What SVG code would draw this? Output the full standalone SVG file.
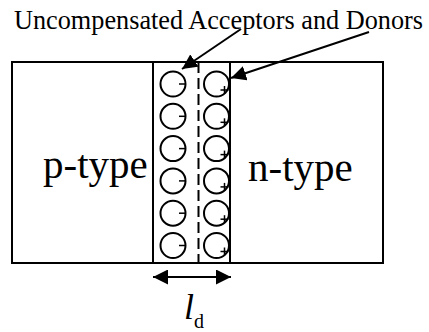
<svg xmlns="http://www.w3.org/2000/svg" width="429" height="332" viewBox="0 0 429 332">
<defs>
<style>
.box{fill:none;stroke:#000;stroke-width:2}
.c{fill:none;stroke:#000;stroke-width:2}
.s{stroke:#000;stroke-width:1.5;fill:none}
.ln{stroke:#000;stroke-width:2;fill:none}
.t{fill:#000}
</style>
<marker id="ah" viewBox="0 0 10 10" refX="10" refY="5" markerWidth="7.5" markerHeight="7.5" markerUnits="strokeWidth" orient="auto-start-reverse">
<path d="M0,0 L10,5 L0,10 Z" fill="#000"/>
</marker>
<g id="acc"><circle class="c" cx="0" cy="0" r="12.5"/><line class="s" x1="6" y1="0" x2="12.5" y2="0"/></g>
<g id="don"><circle class="c" cx="0" cy="0" r="12.5"/><line class="s" x1="4" y1="6" x2="12" y2="6"/><line class="s" x1="8" y1="2" x2="8" y2="10"/></g>
</defs>
<rect width="429" height="332" fill="#fff"/>
<g id="p-region">
<rect class="box" x="12" y="62" width="141" height="201"/>
<text class="t" x="43" y="178" font-size="41" font-family="'Liberation Serif', 'Times New Roman', 'DejaVu Serif', serif">p-type</text>
</g>
<g id="n-region">
<rect class="box" x="230" y="62" width="153" height="201"/>
<text class="t" x="248" y="181" font-size="41" font-family="'Liberation Serif', 'Times New Roman', 'DejaVu Serif', serif">n-type</text>
</g>
<g id="depletion">
<rect class="box" x="153" y="62" width="77" height="201"/>
<line x1="198.5" y1="62" x2="198.5" y2="263" stroke="#000" stroke-width="2" stroke-dasharray="11 5"/>
<use href="#acc" x="173" y="84"/>
<use href="#acc" x="173" y="116.3"/>
<use href="#acc" x="173" y="148.6"/>
<use href="#acc" x="173" y="180.9"/>
<use href="#acc" x="173" y="213.2"/>
<use href="#acc" x="173" y="245.5"/>
<use href="#don" x="216.5" y="84"/>
<use href="#don" x="216.5" y="116.3"/>
<use href="#don" x="216.5" y="148.6"/>
<use href="#don" x="216.5" y="180.9"/>
<use href="#don" x="216.5" y="213.2"/>
<use href="#don" x="216.5" y="245.5"/>
</g>
<g id="label">
<text class="t" x="14" y="29" font-size="26.3" textLength="409" lengthAdjust="spacingAndGlyphs" font-family="'Liberation Serif', 'Times New Roman', 'DejaVu Serif', serif">Uncompensated Acceptors and Donors</text>
</g>
<g id="width-label">
<text class="t" x="184" y="319" font-size="36" font-style="italic" font-family="'Liberation Serif', 'Times New Roman', 'DejaVu Serif', serif">l<tspan font-size="20" font-style="normal" dy="9">d</tspan></text>
</g>
<g id="connectors">
<line class="ln" x1="241" y1="29" x2="182" y2="69" marker-end="url(#ah)"/>
<line class="ln" x1="369" y1="32" x2="231" y2="78" marker-end="url(#ah)"/>
<line class="ln" x1="153" y1="277" x2="231" y2="277" marker-start="url(#ah)" marker-end="url(#ah)"/>
</g>
</svg>
